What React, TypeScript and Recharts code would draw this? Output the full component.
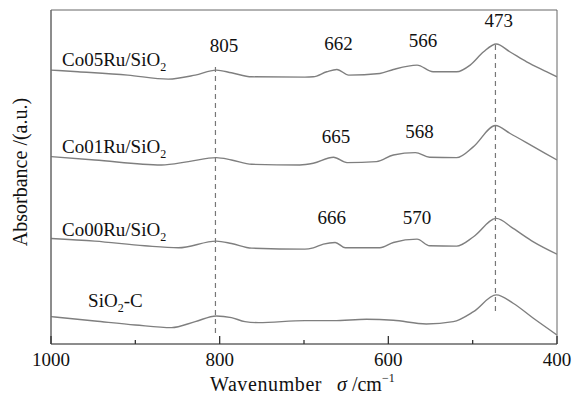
import React from 'react';
import {
  LineChart,
  Line,
  XAxis,
  YAxis,
  ReferenceLine,
  ReferenceArea,
  ReferenceDot,
} from 'recharts';

// wavenumber (cm-1) vs absorbance (a.u., stacked offsets)
const co05Ru = [
  { w: 1000, a: 82.0 }, { w: 968, a: 81.5 }, { w: 909, a: 80.5 }, { w: 861, a: 79.3 },
  { w: 829, a: 80.5 }, { w: 804, a: 82.0 }, { w: 786, a: 81.2 }, { w: 762, a: 80.0 },
  { w: 699, a: 79.9 }, { w: 689, a: 80.0 }, { w: 673, a: 81.5 }, { w: 661, a: 82.2 },
  { w: 647, a: 80.5 }, { w: 610, a: 81.0 }, { w: 594, a: 82.2 }, { w: 566, a: 83.5 },
  { w: 547, a: 81.5 }, { w: 519, a: 81.5 }, { w: 503, a: 83.5 }, { w: 487, a: 87.5 },
  { w: 472, a: 89.8 }, { w: 456, a: 87.5 }, { w: 436, a: 84.5 }, { w: 412, a: 81.5 },
  { w: 400, a: 80.0 },
];

const co01Ru = [
  { w: 1000, a: 56.1 }, { w: 948, a: 55.1 }, { w: 869, a: 53.6 }, { w: 837, a: 54.6 },
  { w: 804, a: 55.8 }, { w: 786, a: 55.1 }, { w: 762, a: 53.8 }, { w: 705, a: 53.6 },
  { w: 689, a: 54.1 }, { w: 665, a: 55.9 }, { w: 649, a: 54.3 }, { w: 614, a: 54.6 },
  { w: 594, a: 56.6 }, { w: 568, a: 57.3 }, { w: 551, a: 55.9 }, { w: 519, a: 55.8 },
  { w: 499, a: 59.1 }, { w: 473, a: 65.4 }, { w: 456, a: 63.1 }, { w: 428, a: 59.1 },
  { w: 400, a: 55.1 },
];

const co00Ru = [
  { w: 1000, a: 31.6 }, { w: 948, a: 30.8 }, { w: 889, a: 29.4 }, { w: 849, a: 28.8 },
  { w: 804, a: 30.8 }, { w: 786, a: 30.1 }, { w: 762, a: 28.7 }, { w: 699, a: 28.4 },
  { w: 689, a: 28.8 }, { w: 677, a: 29.9 }, { w: 663, a: 30.4 }, { w: 651, a: 28.8 },
  { w: 610, a: 28.8 }, { w: 594, a: 30.4 }, { w: 566, a: 31.4 }, { w: 551, a: 29.4 },
  { w: 519, a: 29.3 }, { w: 499, a: 32.1 }, { w: 472, a: 37.6 }, { w: 452, a: 34.6 },
  { w: 428, a: 30.6 }, { w: 400, a: 26.9 },
];

const sio2C = [
  { w: 1000, a: 8.2 }, { w: 948, a: 6.9 }, { w: 900, a: 5.7 }, { w: 857, a: 4.9 },
  { w: 829, a: 6.7 }, { w: 804, a: 8.4 }, { w: 786, a: 7.9 }, { w: 770, a: 6.7 },
  { w: 754, a: 6.4 }, { w: 699, a: 7.0 }, { w: 665, a: 7.0 }, { w: 626, a: 7.4 },
  { w: 594, a: 7.1 }, { w: 555, a: 6.0 }, { w: 523, a: 6.7 }, { w: 499, a: 9.7 },
  { w: 472, a: 14.7 }, { w: 452, a: 12.2 }, { w: 428, a: 7.7 }, { w: 400, a: 2.7 },
];

const series = [co05Ru, co01Ru, co00Ru, sio2C];

const xTicks = [1000, 900, 800, 700, 600, 500, 400];

const markers = [
  { w: 805, from: 3.3, to: 83.5 },
  { w: 473, from: 9.9, to: 90.1 },
];

const peakLabels = [
  { text: '805', w: 795, a: 87.5 },
  { text: '662', w: 659, a: 88.0 },
  { text: '566', w: 559, a: 89.0 },
  { text: '473', w: 469, a: 95.0 },
  { text: '665', w: 662, a: 60.1 },
  { text: '568', w: 563, a: 61.6 },
  { text: '666', w: 667, a: 35.8 },
  { text: '570', w: 566, a: 35.8 },
];

const sampleLabels = [
  { pre: 'Co05Ru/SiO', post: '', w: 987, a: 83.2 },
  { pre: 'Co01Ru/SiO', post: '', w: 987, a: 57.2 },
  { pre: 'Co00Ru/SiO', post: '', w: 987, a: 32.3 },
  { pre: 'SiO', post: '-C', w: 956, a: 11.1 },
];

const FONT = '"Liberation Serif", "Times New Roman", serif';
const INK = '#111';

function WaveTick({ x, y, payload }: any) {
  const major = payload.value % 200 === 0;
  return (
    <g>
      <line x1={x} x2={x} y1={y} y2={y - (major ? 8 : 4)} stroke="#333" strokeWidth={1.3} />
      {major && (
        <text x={x} y={y + 22} textAnchor="middle" fontFamily={FONT} fontSize={19} fill={INK}>
          {payload.value}
        </text>
      )}
    </g>
  );
}

export default function App() {
  return (
    <div style={{ position: 'absolute', left: 0, top: 0, background: '#fff' }}>
      <LineChart width={577} height={396} margin={{ top: 10, right: 20, left: 0, bottom: 0 }}>
        <XAxis
          dataKey="w"
          type="number"
          domain={[400, 1000]}
          reversed
          ticks={xTicks}
          tickSize={0}
          tickMargin={0}
          tickLine={false}
          tick={<WaveTick />}
          height={52}
          stroke="#666"
          allowDataOverflow
          label={{
            content: () => (
              <text x={210} y={391} fontFamily={FONT} fontSize={20} fill={INK}>
                <tspan letterSpacing={0.6}>Wavenumber</tspan>
                <tspan x={337} fontStyle="italic">σ</tspan>
                <tspan> /cm</tspan>
                <tspan fontSize={12} dy={-9}>−1</tspan>
              </text>
            ),
          }}
        />
        <YAxis
          type="number"
          domain={[0, 100]}
          width={51}
          tick={false}
          tickLine={false}
          stroke="#666"
          label={{
            content: () => (
              <text
                x={0}
                y={0}
                transform="translate(27 172) rotate(-90)"
                textAnchor="middle"
                fontFamily={FONT}
                fontSize={20}
                fill={INK}
              >
                Absorbance /(a.u.)
              </text>
            ),
          }}
        />
        <ReferenceArea x1={1000} x2={400} y1={0} y2={100} fill="none" stroke="#666" strokeWidth={1} />
        {markers.map((m) => (
          <ReferenceLine
            key={m.w}
            segment={[{ x: m.w, y: m.from }, { x: m.w, y: m.to }]}
            stroke="#777"
            strokeWidth={1.2}
            strokeDasharray="5 4"
          />
        ))}
        {series.map((d, i) => (
          <Line
            key={i}
            data={d}
            dataKey="a"
            type="monotone"
            stroke="#7f7f7f"
            strokeWidth={1.4}
            dot={false}
            isAnimationActive={false}
          />
        ))}
        {peakLabels.map((p) => (
          <ReferenceDot
            key={p.text + p.a}
            x={p.w}
            y={p.a}
            r={0}
            shape={(props: any) => (
              <text x={props.cx} y={props.cy} textAnchor="middle" fontFamily={FONT} fontSize={19} fill={INK}>
                {p.text}
              </text>
            )}
          />
        ))}
        {sampleLabels.map((s) => (
          <ReferenceDot
            key={s.pre + s.a}
            x={s.w}
            y={s.a}
            r={0}
            shape={(props: any) => (
              <text x={props.cx} y={props.cy} fontFamily={FONT} fontSize={19} fill={INK}>
                {s.pre}
                <tspan fontSize={12} dy={5}>2</tspan>
                {s.post && <tspan fontSize={19} dy={-5}>{s.post}</tspan>}
              </text>
            )}
          />
        ))}
      </LineChart>
    </div>
  );
}
